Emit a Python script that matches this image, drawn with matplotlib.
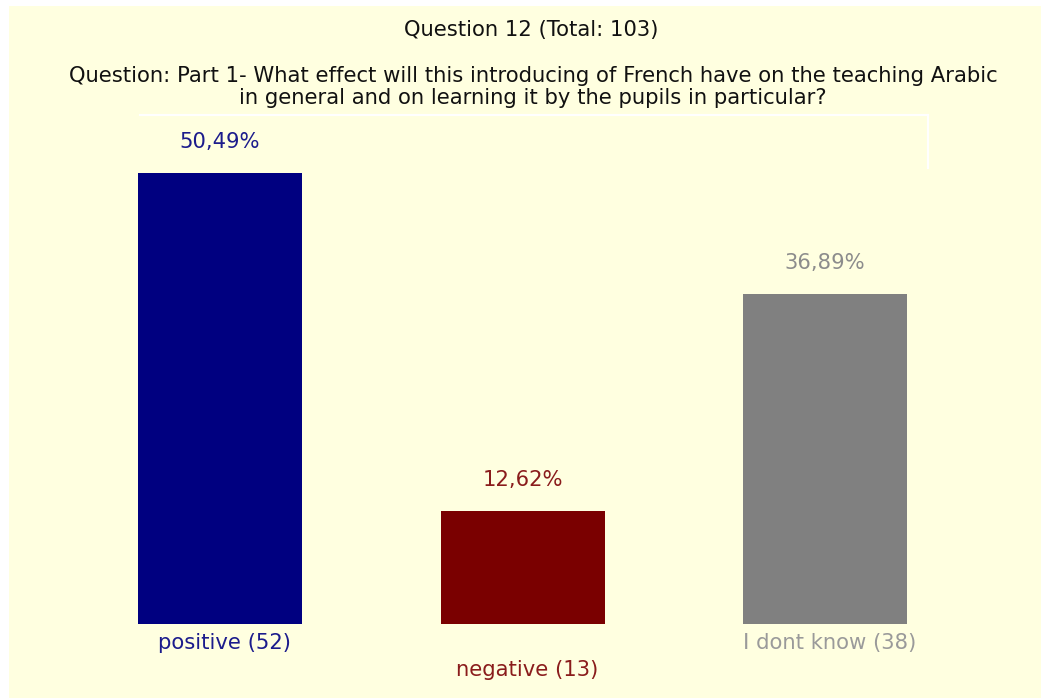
import matplotlib
matplotlib.use("Agg")
import matplotlib.pyplot as plt
from matplotlib.patches import Rectangle
from matplotlib.lines import Line2D

plt.rcParams['font.family'] = ['DejaVu Sans']

categories = ["positive (52)", "negative (13)", "I dont know (38)"]
counts = [52, 13, 38]
percents = [50.49, 12.62, 36.89]
pct_labels = ["50,49%", "12,62%", "36,89%"]
bar_colors = ["#000080", "#7a0000", "#808080"]
text_colors = ["#1c1c8c", "#8a1c1c", "#9a9a9a"]
pct_colors = ["#1c1c8c", "#8a1c1c", "#8c8c8c"]

W, H = 1041, 698
fig = plt.figure(figsize=(W / 100, H / 100), dpi=100)
fig.patch.set_facecolor("white")

# yellow panel with thin white frame
fig.patches.append(Rectangle((9 / W, 0), 1 - 9 / W, 1 - 6 / H,
                             transform=fig.transFigure, facecolor="#ffffe0",
                             edgecolor="none", zorder=-5))
# leftover white box outline under the question
fig.lines.append(Line2D([140 / W, 928 / W], [1 - 115 / H, 1 - 115 / H],
                        transform=fig.transFigure, color="white", lw=1.5, zorder=-4))
fig.lines.append(Line2D([928 / W, 928 / W], [1 - 115 / H, 1 - 168 / H],
                        transform=fig.transFigure, color="white", lw=1.5, zorder=-4))

fs = 15.2

fig.text(531 / W, 1 - 30 / H, "Question 12 (Total: 103)", ha="center", va="center",
         fontsize=fs, color="#111111")
fig.text(533 / W, 1 - 87 / H,
         "Question: Part 1- What effect will this introducing of French have on the teaching Arabic\n"
         "in general and on learning it by the pupils in particular?",
         ha="center", va="center", fontsize=fs, color="#111111", linespacing=1.1)

bw = 164 / 302.5
ax = fig.add_axes([138 / W, 74 / H, (907 - 138) / W, 451 / H], zorder=2)
ax.set_facecolor("none")
ax.set_xlim(-bw / 2, 2 + bw / 2)
ax.set_ylim(0, max(percents))
x = list(range(len(categories)))
ax.bar(x, percents, width=bw, color=bar_colors, edgecolor="none")
for i in x:
    ax.annotate(pct_labels[i], (i, percents[i]), xytext=(0, 31),
                textcoords="offset pixels", ha="center", va="center",
                fontsize=fs, color=pct_colors[i])
    off = -19 if i != 1 else -46
    ax.annotate(categories[i], (i, 0), xytext=(5, off),
                textcoords="offset pixels", ha="center", va="center",
                fontsize=fs, color=text_colors[i], annotation_clip=False)
ax.axis("off")

fig.savefig("out.png", dpi=100, facecolor=fig.get_facecolor())
